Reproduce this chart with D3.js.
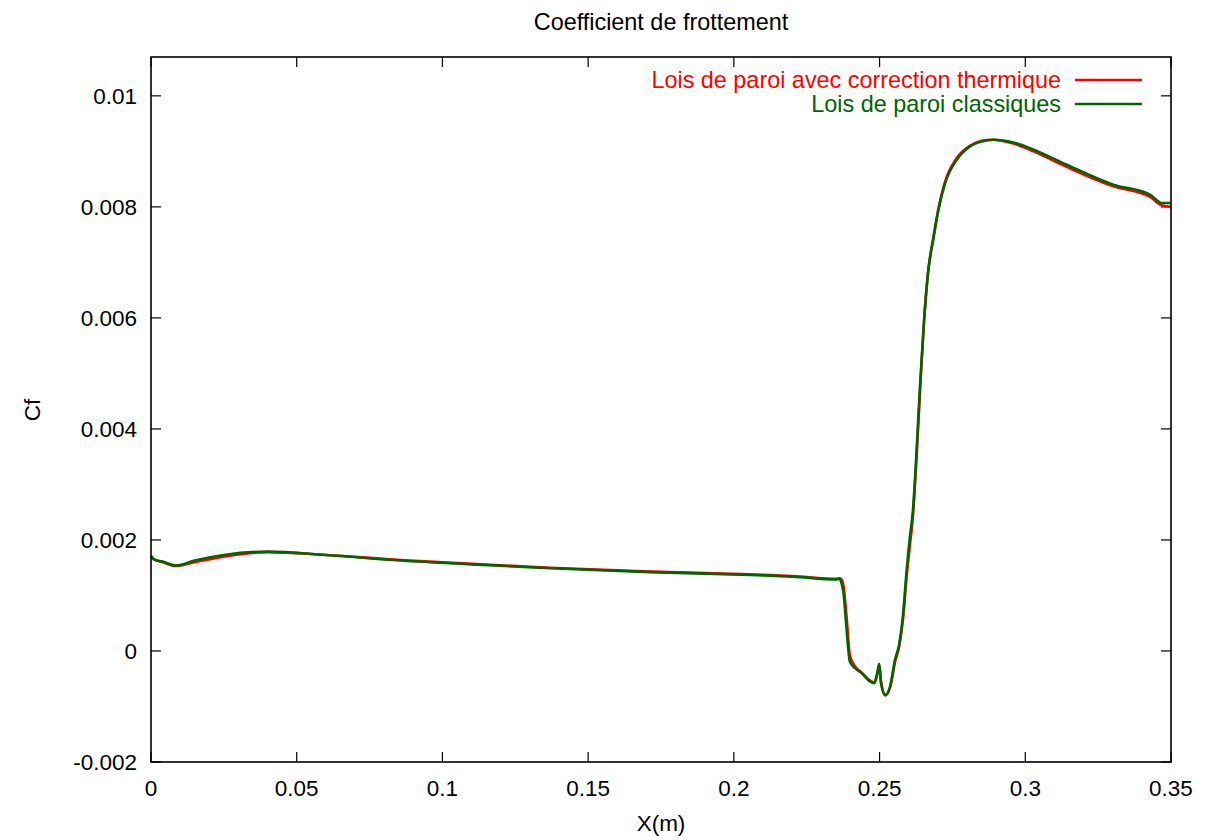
<!DOCTYPE html>
<html><head><meta charset="utf-8">
<script src="https://cdn.jsdelivr.net/npm/d3@7"></script>
<style>body{margin:0;background:#fff}svg{display:block}text{font-family:"Liberation Sans",Arial,sans-serif}</style>
</head><body>
<script>
const title = "Coefficient de frottement";
const xLabel = "X(m)";
const yLabel = "Cf";
const xTicks = [0, 0.05, 0.1, 0.15, 0.2, 0.25, 0.3, 0.35];
const xTickLabels = ["0", "0.05", "0.1", "0.15", "0.2", "0.25", "0.3", "0.35"];
const yTicks = [-0.002, 0, 0.002, 0.004, 0.006, 0.008, 0.01];
const yTickLabels = ["-0.002", "0", "0.002", "0.004", "0.006", "0.008", "0.01"];
const seriesNames = ["Lois de paroi avec correction thermique", "Lois de paroi classiques"];
const seriesColors = ["#ff0000", "#006400"];

const xValues = [0, 0.001, 0.004, 0.0086, 0.015, 0.025, 0.04, 0.06, 0.0855, 0.11, 0.137, 0.1713, 0.2056, 0.22, 0.2354, 0.2362, 0.2368, 0.2376, 0.2387, 0.2398, 0.2416, 0.2439, 0.2467, 0.2482, 0.2492, 0.2499, 0.2505, 0.2520, 0.2536, 0.2553, 0.2568, 0.2581, 0.2593, 0.2604, 0.2614, 0.2627, 0.2639, 0.2652, 0.2666, 0.2685, 0.2702, 0.2725, 0.2765, 0.2810, 0.2850, 0.2890, 0.2959, 0.3028, 0.3142, 0.3302, 0.3428, 0.3468, 0.35];

const cfThermique = [0.00171, 0.00165, 0.0016, 0.00153, 0.0016, 0.0017, 0.00178, 0.00173, 0.00164, 0.00157, 0.0015, 0.00143, 0.00138, 0.00135, 0.0013, 0.00131, 0.0013, 0.00118, 0.0006, -0.00008, -0.00028, -0.00039, -0.00053, -0.00057, -0.00042, -0.00025, -0.00055, -0.00079, -0.00066, -0.0002, 0.0001, 0.0006, 0.00135, 0.0019, 0.0024, 0.0035, 0.0047, 0.0059, 0.0068, 0.00746, 0.00797, 0.00846, 0.00888, 0.0091, 0.00919, 0.00921, 0.00914, 0.009, 0.00872, 0.00837, 0.00818, 0.00803, 0.008];

const cfClassique = [0.00171, 0.00165, 0.00161, 0.00154, 0.00163, 0.00173, 0.00179, 0.00173, 0.00163, 0.00156, 0.00149, 0.00142, 0.00137, 0.00134, 0.00129, 0.0013, 0.00125, 0.00105, 0.00038, -0.00019, -0.00031, -0.0004, -0.00055, -0.00058, -0.0004, -0.00023, -0.00058, -0.0008, -0.00064, -0.00016, 0.00014, 0.00068, 0.00146, 0.00205, 0.0025, 0.0036, 0.0048, 0.0059, 0.0068, 0.00744, 0.00795, 0.00843, 0.00885, 0.00909, 0.00918, 0.00921, 0.00916, 0.00903, 0.00876, 0.0084, 0.00822, 0.00807, 0.00807];

const W = 1207, H = 840;
const L = 151, R = 1171, T = 57, B = 762;
const fs = 22.5;
const fsBig = 23.4;

const svg = d3.select("body").append("svg").attr("width", W).attr("height", H);
const x = d3.scaleLinear().domain([0, 0.35]).range([L, R]);
const y = d3.scaleLinear().domain([-0.002, 0.0107]).range([B, T]);

// ticks (inward, mirrored)
const tickLen = 10;
const gT = svg.append("g").attr("stroke", "#000").attr("stroke-width", 1.2);
xTicks.forEach(v => {
  gT.append("line").attr("x1", x(v)).attr("x2", x(v)).attr("y1", B).attr("y2", B - tickLen);
  gT.append("line").attr("x1", x(v)).attr("x2", x(v)).attr("y1", T).attr("y2", T + tickLen);
});
yTicks.forEach(v => {
  gT.append("line").attr("x1", L).attr("x2", L + tickLen).attr("y1", y(v)).attr("y2", y(v));
  gT.append("line").attr("x1", R).attr("x2", R - tickLen).attr("y1", y(v)).attr("y2", y(v));
});

// tick labels
xTicks.forEach((v, i) => {
  svg.append("text").attr("x", x(v)).attr("y", B + 34).attr("text-anchor", "middle")
    .attr("font-size", fs).text(xTickLabels[i]);
});
yTicks.forEach((v, i) => {
  svg.append("text").attr("x", L - 14).attr("y", y(v) + 8).attr("text-anchor", "end")
    .attr("font-size", fs).text(yTickLabels[i]);
});

// lines
const line = d3.line().x(d => x(d[0])).y(d => y(d[1])).curve(d3.curveMonotoneX);
[cfThermique, cfClassique].forEach((vals, i) => {
  svg.append("path").datum(xValues.map((xv, j) => [xv, vals[j]]))
    .attr("fill", "none").attr("stroke", seriesColors[i]).attr("stroke-width", 2.6)
    .attr("stroke-linejoin", "round").attr("d", line);
});

// frame
svg.append("rect").attr("x", L).attr("y", T).attr("width", R - L).attr("height", B - T)
  .attr("fill", "none").attr("stroke", "#000").attr("stroke-width", 1.6);

// legend
seriesNames.forEach((n, i) => {
  const ly = 80 + i * 24;
  svg.append("text").attr("x", 1061).attr("y", ly + 8).attr("text-anchor", "end")
    .attr("font-size", fsBig).attr("fill", seriesColors[i]).text(n);
  svg.append("line").attr("x1", 1075).attr("x2", 1142).attr("y1", ly).attr("y2", ly)
    .attr("stroke", seriesColors[i]).attr("stroke-width", 2.6);
});

// titles
svg.append("text").attr("x", 661).attr("y", 30).attr("text-anchor", "middle").attr("font-size", fsBig).text(title);
svg.append("text").attr("x", 661).attr("y", 831).attr("text-anchor", "middle").attr("font-size", fs).text(xLabel);
svg.append("text").attr("transform", "translate(40,410) rotate(-90)").attr("text-anchor", "middle").attr("font-size", fs).text(yLabel);
</script>
</body></html>
